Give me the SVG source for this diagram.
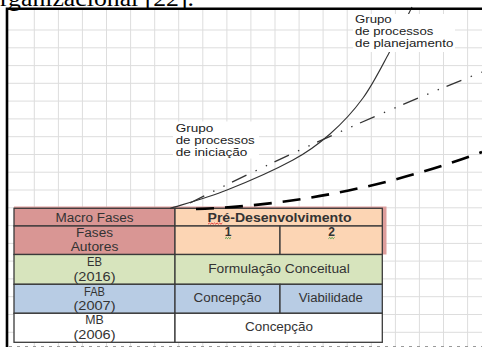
<svg xmlns="http://www.w3.org/2000/svg" width="482" height="347" viewBox="0 0 482 347">
<style>
.grid{stroke:#dddddd;stroke-width:1;fill:none}
.cell{stroke:#3a3a3a;stroke-width:1.3}
.t{font-family:"Liberation Sans",Arial,sans-serif;font-size:12px;fill:#333333;text-anchor:middle}
.b{font-weight:bold}
.lbl{font-family:"Liberation Sans",Arial,sans-serif;font-size:10.5px;fill:#222222}
.red{fill:#d99694}
.org{fill:#fcd5b4}
.grn{fill:#d7e4bd}
.blu{fill:#b8cce4}
.wht{fill:#ffffff}
.sq{fill:none;stroke-width:0.9}
</style>
<rect width="482" height="347" fill="#ffffff"/>
<text x="0" y="6" font-family="'Liberation Serif','Times New Roman',serif" font-size="24" fill="#000000" textLength="194" lengthAdjust="spacingAndGlyphs">rganizacional [22].</text>
<g id="grid">
<path class="grid" d="M34.3,9V347M58.4,9V347M82.4,9V347M106.5,9V347M130.6,9V347M154.7,9V347M178.7,9V347M202.8,9V347M226.9,9V347M250.9,9V347M275,9V347M299.1,9V347M323.1,9V347M347.2,9V347M371.3,9V347M395.4,9V347M419.4,9V347M443.5,9V347M467.6,9V347"/>
<path class="grid" d="M7,30H482M7,47.8H482M7,65.6H482M7,83.3H482M7,101.1H482M7,118.9H482M7,136.7H482M7,154.5H482M7,172.2H482M7,190H482M7,207.8H482M7,225.6H482M7,243.4H482M7,261.1H482M7,278.9H482M7,296.7H482M7,314.5H482M7,332.3H482"/>
</g>
<g id="table">
<rect x="14" y="206.5" width="372.5" height="48" fill="#dd9d9b"/>
<g id="macro-fases"><rect class="cell red" x="14" y="208.3" width="161" height="17.7"/><text class="t" x="94.5" y="221.7" textLength="78" lengthAdjust="spacingAndGlyphs">Macro Fases</text></g>
<g id="fases-autores"><rect class="cell red" x="14" y="226" width="161" height="28.5"/><text class="t" x="94.5" y="236.5" textLength="37" lengthAdjust="spacingAndGlyphs">Fases</text><text class="t" x="94.5" y="251.3" textLength="47.7" lengthAdjust="spacingAndGlyphs">Autores</text></g>
<g id="pre-desenvolvimento"><rect class="cell org" x="175" y="208.3" width="207.3" height="17.7"/><text class="t b" x="279.5" y="221.7" textLength="144" lengthAdjust="spacingAndGlyphs">Pré-Desenvolvimento</text><path class="sq" stroke="#e03030" d="M208,224.2l1.3,-1.2l1.3,1.2l1.3,-1.2l1.3,1.2l1.3,-1.2l1.3,1.2l1.3,-1.2l1.3,1.2l1.3,-1.2l1.3,1.2l1.3,-1.2"/></g>
<g id="fase-1"><rect class="cell org" x="175" y="226" width="105" height="28.5"/><text class="t b" x="228" y="235.5">1</text><path class="sq" stroke="#3a9a3a" d="M225,238.6l1.2,-1.1l1.2,1.1l1.2,-1.1l1.2,1.1l1.2,-1.1"/></g>
<g id="fase-2"><rect class="cell org" x="280" y="226" width="102.3" height="28.5"/><text class="t b" x="331.5" y="235.5">2</text><path class="sq" stroke="#3a9a3a" d="M328.5,238.6l1.2,-1.1l1.2,1.1l1.2,-1.1l1.2,1.1l1.2,-1.1"/></g>
<g id="eb"><rect class="cell grn" x="14" y="254.5" width="161" height="29.8"/><text class="t" x="94.5" y="266" textLength="15" lengthAdjust="spacingAndGlyphs">EB</text><text class="t" x="94.5" y="280.5" textLength="42" lengthAdjust="spacingAndGlyphs">(2016)</text></g>
<g id="eb-formulacao"><rect class="cell grn" x="175" y="254.5" width="207.3" height="29.8"/><text class="t" x="279" y="273.3" textLength="141.7" lengthAdjust="spacingAndGlyphs">Formulação Conceitual</text></g>
<g id="fab"><rect class="cell blu" x="14" y="284.3" width="161" height="29"/><text class="t" x="94.5" y="296" textLength="21" lengthAdjust="spacingAndGlyphs">FAB</text><text class="t" x="94.5" y="310" textLength="42" lengthAdjust="spacingAndGlyphs">(2007)</text></g>
<g id="fab-concepcao"><rect class="cell blu" x="175" y="284.3" width="105" height="29"/><text class="t" x="227.5" y="301.7" textLength="68" lengthAdjust="spacingAndGlyphs">Concepção</text></g>
<g id="fab-viabilidade"><rect class="cell blu" x="280" y="284.3" width="102.3" height="29"/><text class="t" x="330.8" y="301.7" textLength="64" lengthAdjust="spacingAndGlyphs">Viabilidade</text></g>
<g id="mb"><rect class="cell wht" x="14" y="313.3" width="161" height="29"/><text class="t" x="94.5" y="324" textLength="18.5" lengthAdjust="spacingAndGlyphs">MB</text><text class="t" x="94.5" y="338.5" textLength="42" lengthAdjust="spacingAndGlyphs">(2006)</text></g>
<g id="mb-concepcao"><rect class="cell wht" x="175" y="313.3" width="207.3" height="29"/><text class="t" x="279" y="331" textLength="68" lengthAdjust="spacingAndGlyphs">Concepção</text></g>
</g>
<g id="connectors" fill="none">
<path id="curve-solid" stroke="#333333" stroke-width="1.1" d="M170,208.5 C179.5,205.4 206.5,198.1 227,190 C247.5,181.9 275.8,169.3 293,160 C310.2,150.7 318.3,144.3 330,134 C341.7,123.7 353.2,111.5 363,98 C372.8,84.5 380.8,68.2 389,53 C397.2,37.8 404.5,22 412,7"/>
<path id="curve-dashdot" stroke="#333333" stroke-width="1.3" stroke-dasharray="16 10 1.4 10 1.4 8.2" d="M190,203 Q330,132.5 482,72"/>
<path id="curve-dashed" stroke="#000000" stroke-width="2.6" stroke-dasharray="18 11" d="M196,209 Q341,204 482,152"/>
</g>
<g id="label-iniciacao">
<rect x="173" y="121.5" width="86" height="37" fill="#ffffff"/>
<text class="lbl" x="175.7" y="132.3" textLength="37.7" lengthAdjust="spacingAndGlyphs">Grupo</text>
<text class="lbl" x="175.7" y="144" textLength="79" lengthAdjust="spacingAndGlyphs">de processos</text>
<text class="lbl" x="175.7" y="155.7" textLength="71.7" lengthAdjust="spacingAndGlyphs">de iniciação</text>
</g>
<g id="label-planejamento">
<rect x="353" y="14" width="102" height="38" fill="#ffffff"/>
<text class="lbl" x="355" y="23.3" textLength="36.7" lengthAdjust="spacingAndGlyphs">Grupo</text>
<text class="lbl" x="355" y="35" textLength="78.3" lengthAdjust="spacingAndGlyphs">de processos</text>
<text class="lbl" x="355" y="46.7" textLength="98.3" lengthAdjust="spacingAndGlyphs">de planejamento</text>
</g>
<g id="frame" fill="none">
<path d="M7,347V8.8H482" stroke="#000000" stroke-width="2.6"/>
<path d="M9,346.5H482" stroke="#9a9a9a" stroke-width="1" stroke-dasharray="3 5"/>
</g>
</svg>
